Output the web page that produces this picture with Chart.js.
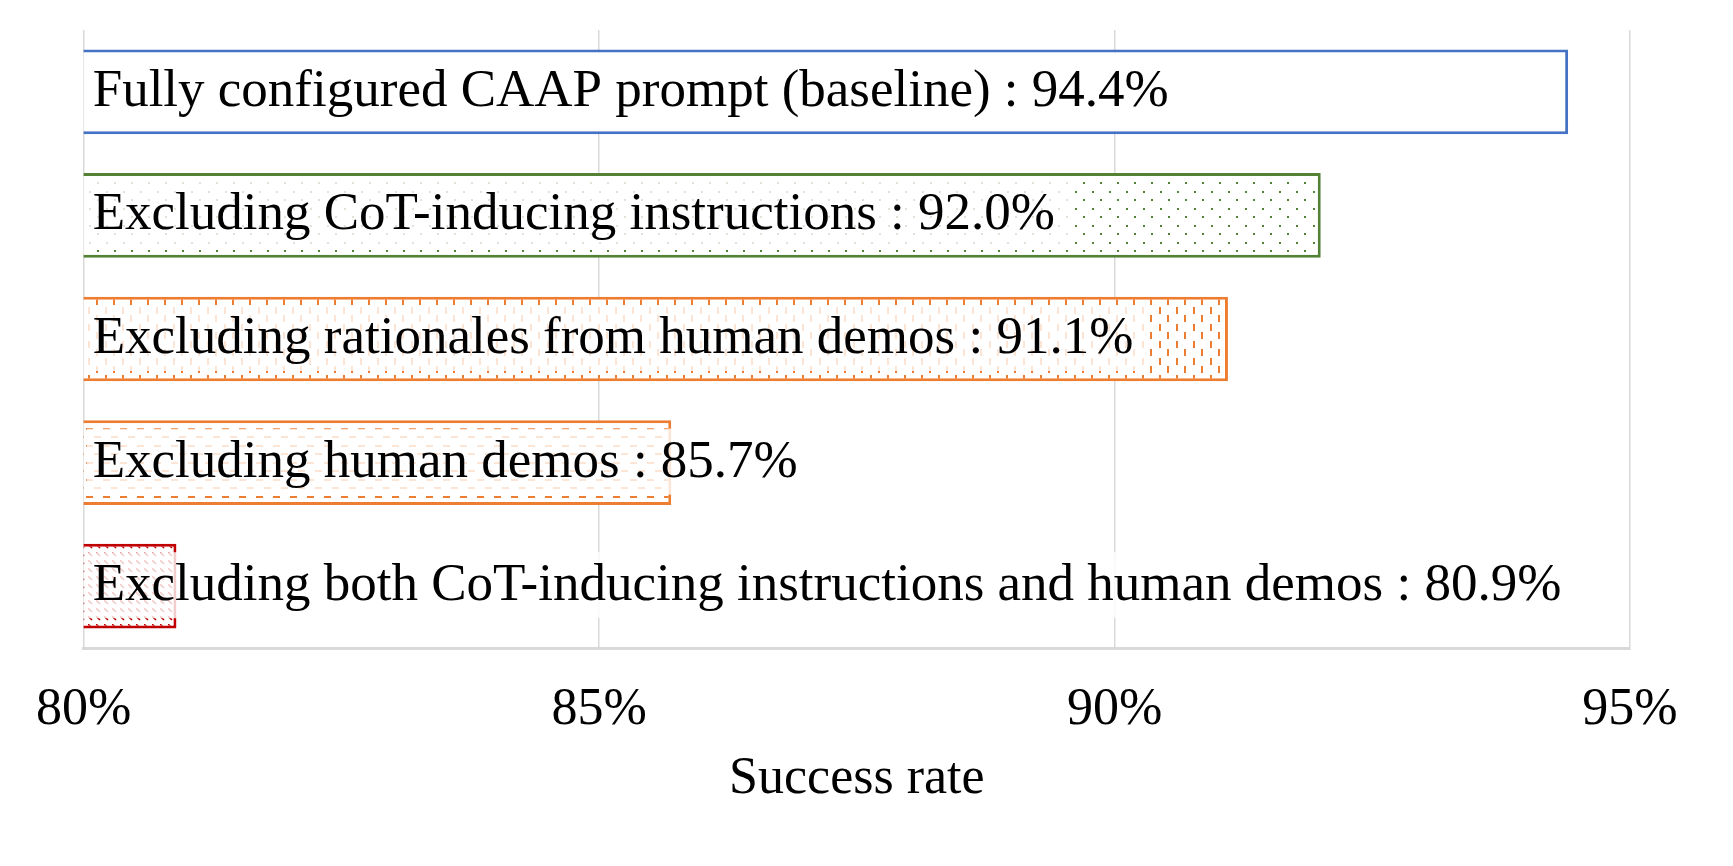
<!DOCTYPE html>
<html>
<head>
<meta charset="utf-8">
<script src="https://cdn.jsdelivr.net/npm/chart.js@4.4.0/dist/chart.umd.min.js"></script>
<style>
  html, body { margin: 0; padding: 0; background: #fff; }
  canvas { display: block; }
</style>
</head>
<body>
<canvas id="cv" width="1733" height="866"></canvas>
<script>
const categories = [
  'Fully configured CAAP prompt (baseline)',
  'Excluding CoT-inducing instructions',
  'Excluding rationales from human demos',
  'Excluding human demos',
  'Excluding both CoT-inducing instructions and human demos'
];
const values = [94.4, 92.0, 91.1, 85.7, 80.9];
const xTickValues = [80, 85, 90, 95];
const axisTitle = 'Success rate';

const FONT = "'Liberation Serif', 'Times New Roman', serif";
const BLUE = '#4472C4', GREEN = '#548235', ORANGE = '#ED7D31', RED = '#C00000';

// small tiles for the Excel-like pattern fills
function makePattern(size, color, draw) {
  const c = document.createElement('canvas');
  c.width = size; c.height = size;
  const g = c.getContext('2d');
  g.fillStyle = '#fff';
  g.fillRect(0, 0, size, size);
  g.fillStyle = color;
  g.strokeStyle = color;
  draw(g);
  return g.createPattern(c, 'repeat');
}

const dots = makePattern(17, GREEN, g => {
  g.fillRect(4, 4, 2, 2);
  g.fillRect(12, 12, 2, 2);
});
const vDash = makePattern(17, ORANGE, g => {
  g.fillRect(3, 1, 2, 7);
  g.fillRect(11, 9, 2, 7);
});
const hDash = makePattern(17, ORANGE, g => {
  g.fillRect(1, 3, 7, 2);
  g.fillRect(9, 11, 7, 2);
});
const diag = makePattern(8, RED, g => {
  g.lineWidth = 1.6;
  g.beginPath();
  g.moveTo(0, 0);
  g.lineTo(4, 4);
  g.stroke();
});

const fills = ['#ffffff', dots, vDash, hDash, diag];
const borders = [BLUE, GREEN, ORANGE, ORANGE, RED];

// data labels with a translucent white box, like the original
const barLabels = {
  id: 'barLabels',
  afterDraw(chart) {
    const ctx = chart.ctx;
    const xs = chart.scales.x, ys = chart.scales.y;
    const left = xs.getPixelForValue(xTickValues[0]);
    ctx.save();
    ctx.font = '53px ' + FONT;
    ctx.textBaseline = 'middle';
    ctx.textAlign = 'left';
    for (let i = 0; i < categories.length; i++) {
      const y = ys.getPixelForValue(i);
      const text = categories[i] + ' : ' + values[i].toFixed(1) + '%';
      const tx = left + 9;
      const w = ctx.measureText(text).width;
      ctx.fillStyle = 'rgba(255,255,255,0.8)';
      ctx.fillRect(left + 3, y - 34, tx + w + 14 - (left + 3), 66);
      ctx.fillStyle = '#000';
      ctx.fillText(text, tx, y);
    }
    ctx.restore();
  }
};

new Chart(document.getElementById('cv').getContext('2d'), {
  type: 'bar',
  data: {
    labels: categories,
    datasets: [{
      data: values,
      backgroundColor: fills,
      borderColor: borders,
      borderWidth: 3,
      borderSkipped: false,
      categoryPercentage: 1,
      barPercentage: 0.685
    }]
  },
  options: {
    indexAxis: 'y',
    responsive: false,
    animation: false,
    layout: { padding: { left: 82, right: 103, top: 30, bottom: 61 } },
    plugins: { legend: { display: false }, tooltip: { enabled: false } },
    scales: {
      x: {
        min: xTickValues[0],
        max: xTickValues[xTickValues.length - 1],
        afterBuildTicks: scale => { scale.ticks = xTickValues.map(v => ({ value: v })); },
        ticks: {
          callback: v => v + '%',
          color: '#000',
          font: { family: FONT, size: 52, lineHeight: 1 },
          padding: 36,
          maxRotation: 0,
          autoSkip: false
        },
        grid: { color: '#d9d9d9', lineWidth: 1.5, drawTicks: false },
        border: { color: '#d9d9d9', width: 3 },
        title: {
          display: true,
          text: axisTitle,
          color: '#000',
          font: { family: FONT, size: 52, lineHeight: 1 },
          padding: { top: -19, bottom: 0 }
        }
      },
      y: { display: false }
    }
  },
  plugins: [barLabels]
});
</script>
</body>
</html>
